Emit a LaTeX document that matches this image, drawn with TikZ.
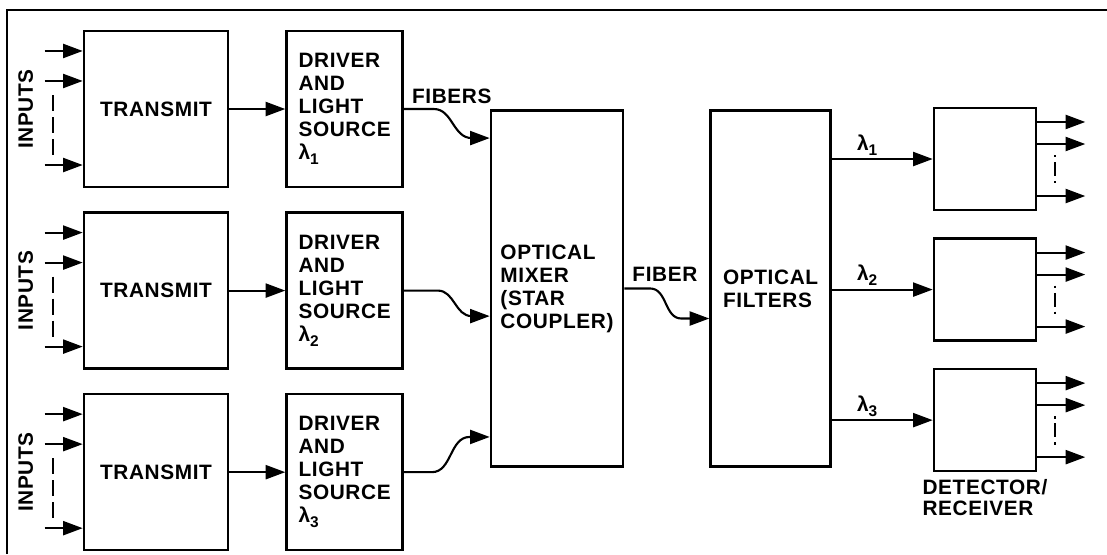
\documentclass[tikz,border=0pt]{standalone}
\usepackage{fontspec}
\setmainfont[LetterSpace=3]{Liberation Sans}
\usetikzlibrary{arrows.meta, positioning, calc}

\newcommand{\lamsub}[1]{λ\raisebox{-0.45ex}{\fontsize{11}{11}\selectfont #1}}

\begin{document}
\begin{tikzpicture}[
			x=0.025cm, y=-0.025cm,
			>={Triangle[length=14pt,width=10pt]},
			font=\fontsize{14.8}{16.4}\selectfont\bfseries,
			box/.style    = {draw, line width=1.8pt, inner sep=0pt, align=left},
			txbox/.style  = {box, minimum width=3.6cm, minimum height=3.9cm},
			drvbox/.style = {box, minimum width=2.9cm, minimum height=3.9cm},
			detbox/.style = {box, minimum width=2.55cm, minimum height=2.55cm},
			arr/.style    = {->, line width=1.5pt},
			gap/.style    = {line width=1.5pt, dash pattern=on 0.4cm off 0.15cm},
			dotgap/.style = {line width=1.5pt, dash pattern=on 0.06cm off 0.12cm on 0.35cm off 0.12cm}
			]
			
			\useasboundingbox (0,0) rectangle (1107,554);
			
			% frame (top and left edge only)
			\draw [line width=2pt] (7,554) -- (7,10) -- (1107,10);
			
			%% ── Transmitters ──────────────────────────────────────────────
			\node [txbox] (txA) at (156,109) {TRANSMIT};
			\node [txbox, below=0.575cm of txA] (txB) {TRANSMIT};
			\node [txbox, below=0.575cm of txB] (txC) {TRANSMIT};
			
			\node [drvbox, right=1.4cm of txA] (drvA) {DRIVER\\AND\\LIGHT\\SOURCE\\\lamsub{1}};
			\node [drvbox, right=1.4cm of txB] (drvB) {DRIVER\\AND\\LIGHT\\SOURCE\\\lamsub{2}};
			\node [drvbox, right=1.4cm of txC] (drvC) {DRIVER\\AND\\LIGHT\\SOURCE\\\lamsub{3}};
			
			%% ── Mixer and filters ─────────────────────────────────────────
			\node [box, minimum width=3.3cm, minimum height=8.9cm] (mixer) at (557,288.5)
			{OPTICAL\\MIXER\\(STAR\\COUPLER)};
			\node [box, minimum width=3.0cm, minimum height=8.9cm, right=2.125cm of mixer] (filters)
			{OPTICAL\\FILTERS};
			
			\coordinate (mixA) at ([yshift=3.76cm]mixer.west);
			\coordinate (mixB) at ([yshift=-0.69cm]mixer.west);
			\coordinate (mixC) at ([yshift=-3.71cm]mixer.west);
			\coordinate (filIn) at ([yshift=-0.75cm]filters.west);
			
			%% ── Receivers ─────────────────────────────────────────────────
			\node [detbox] (detA) at (985,159) {};
			\node [detbox, below=0.65cm of detA] (detB) {};
			\node [detbox, below=0.65cm of detB] (detC) {};
			\node [below=0.05cm of detC, align=left, font=\fontsize{14.8}{14.8}\selectfont\bfseries] (detlbl)
			{DETECTOR/\\RECEIVER};
			
			%% ── Inputs and transmitter links ──────────────────────────────
			\foreach \r in {A,B,C}{
				\node [rotate=90] (inp\r) at ([xshift=-1.425cm]tx\r.west) {INPUTS};
				\foreach \dy in {1.45,0.7,-1.4}
				\draw [arr] ([shift={(-0.95cm,\dy cm)}]tx\r.west) -- ([yshift=\dy cm]tx\r.west);
				\draw [gap] ([shift={(-0.75cm,0.35cm)}]tx\r.west) -- ([shift={(-0.75cm,-1.15cm)}]tx\r.west);
				\draw [arr] (tx\r) -- (drv\r);
			}
			
			%% ── Fibers ────────────────────────────────────────────────────
			\node [above right=0cm and 0.08cm of drvA.east] (fibers) {FIBERS};
			\draw [arr] (drvA.east) -- ++(30,0) to[out=0,in=180] ([xshift=-0.45cm]mixA) -- (mixA);
			\draw [arr] (drvB.east) -- ++(34,0) to[out=0,in=180] ([xshift=-0.45cm]mixB) -- (mixB);
			\draw [arr] (drvC.east) -- ++(28,0) to[out=0,in=180] ([xshift=-0.5cm]mixC) -- (mixC);
			
			\node [above right=0.05cm and 0.08cm of mixer.east] (fiber) {FIBER};
			\draw [arr] (mixer.east) -- ++(26,0) to[out=0,in=180] ([xshift=-0.7cm]filIn) -- (filIn);
			
			%% ── Wavelength outputs ────────────────────────────────────────
			\draw [arr] (filters.east |- detA.west) -- node[above, pos=0.35, inner sep=2pt] (lamA) {\lamsub{1}} (detA.west);
			\draw [arr] (filters.east |- detB.west) -- node[above, pos=0.35, inner sep=2pt] (lamB) {\lamsub{2}} (detB.west);
			\draw [arr] (filters.east |- detC.west) -- node[above, pos=0.35, inner sep=2pt] (lamC) {\lamsub{3}} (detC.west);
			
			\foreach \r in {A,B,C}{
				\foreach \dy in {0.925,0.375,-0.925}
				\draw [arr] ([yshift=\dy cm]det\r.east) -- ++(1.2cm,0);
				\draw [dotgap] ([shift={(0.45cm,0.1cm)}]det\r.east) -- ([shift={(0.45cm,-0.65cm)}]det\r.east);
			}
			
		\end{tikzpicture}
\end{document}
